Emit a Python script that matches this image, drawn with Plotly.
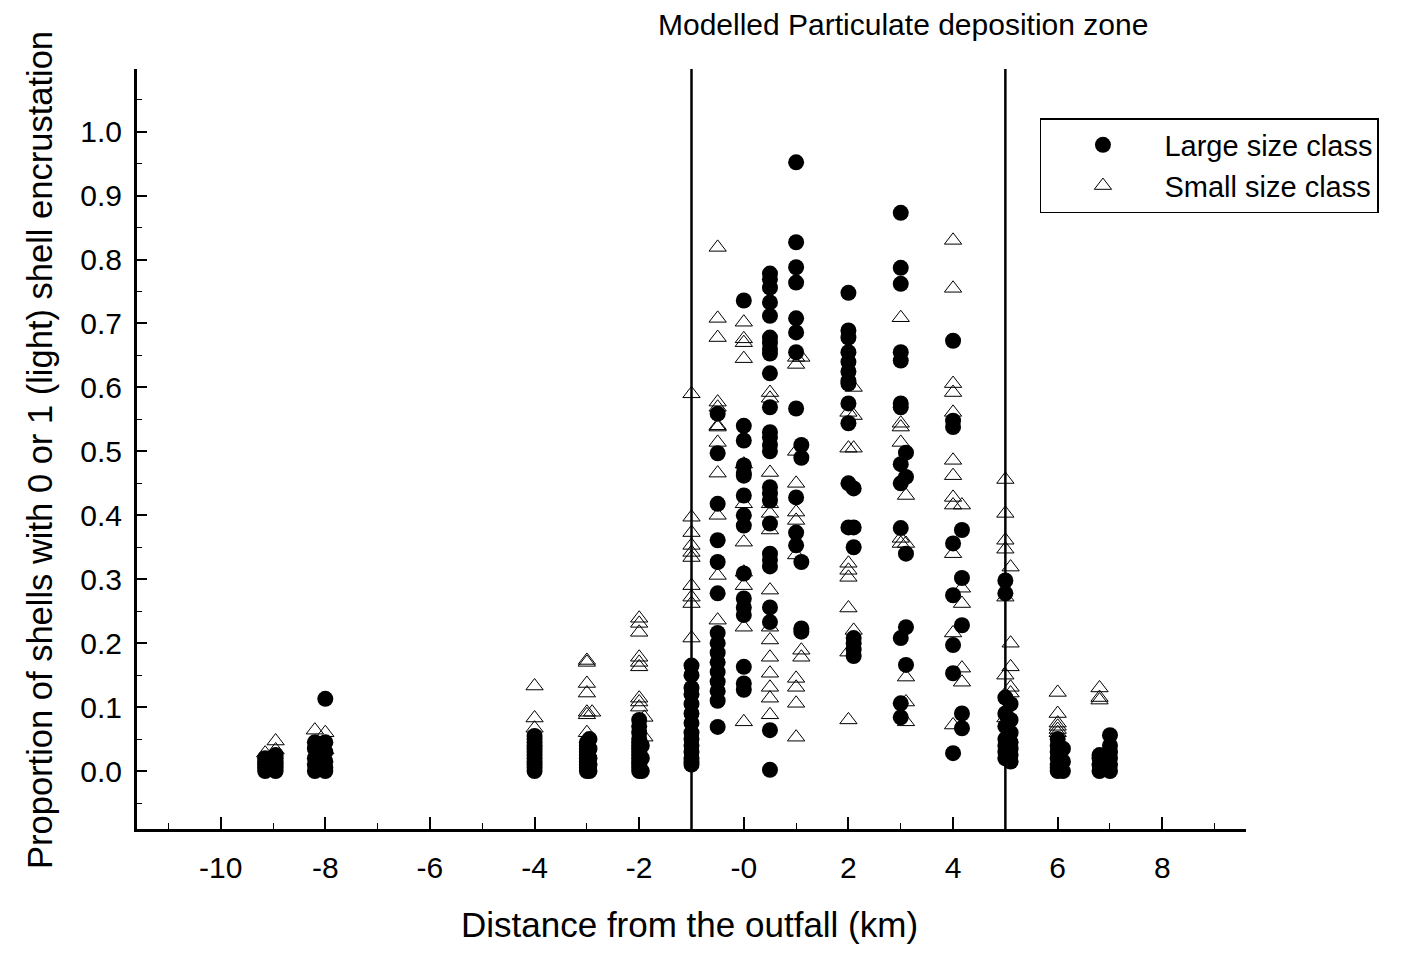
import plotly.graph_objects as go

# ---------------- data ----------------
large_distance = (
    [-9.15] * 5 + [-8.95] * 6 + [-8.2] * 5 + [-8.0] * 6 +
    [-4.0] * 12 + [-3.0] * 10 + [-2.95] * 5 + [-2.0] * 14 + [-1.95] * 3 +
    [-1.0] * 14 + [-0.5] * 15 + [0.0] * 16 + [0.5] * 26 +
    [1.0] * 11 + [1.1] * 5 + [2.0] * 12 + [2.1] * 7 +
    [3.0] * 13 + [3.1] * 5 + [4.0] * 8 + [4.17] * 5 +
    [5.0] * 9 + [5.1] * 7 + [6.0] * 7 + [6.1] * 3 + [6.8] * 4 + [7.0] * 6
)
large_proportion = [
    0.0, 0.005, 0.01, 0.015, 0.02,
    0.0, 0.005, 0.01, 0.015, 0.02, 0.025,
    0.0, 0.01, 0.02, 0.035, 0.045,
    0.0, 0.005, 0.015, 0.03, 0.045, 0.113,
    0.0, 0.005, 0.01, 0.015, 0.02, 0.025, 0.03, 0.035, 0.04, 0.045, 0.05, 0.055,
    0.0, 0.005, 0.01, 0.015, 0.02, 0.025, 0.03, 0.035, 0.04, 0.045,
    0.0, 0.01, 0.02, 0.035, 0.05,
    0.0, 0.005, 0.01, 0.015, 0.02, 0.025, 0.03, 0.035, 0.04, 0.045, 0.05, 0.06, 0.07, 0.08,
    0.0, 0.02, 0.04,
    0.01, 0.015, 0.02, 0.03, 0.04, 0.05, 0.06, 0.075, 0.09, 0.105, 0.12, 0.13, 0.15, 0.165,
    0.069, 0.11, 0.125, 0.14, 0.155, 0.17, 0.185, 0.2, 0.216, 0.278, 0.327, 0.361, 0.418, 0.497, 0.559,
    0.127, 0.137, 0.163, 0.244, 0.256, 0.27, 0.309, 0.384, 0.4, 0.431, 0.462, 0.466, 0.478, 0.517, 0.54, 0.736,
    0.002, 0.064, 0.233, 0.256, 0.32, 0.33, 0.34, 0.387, 0.423, 0.434, 0.444, 0.5, 0.51, 0.522, 0.53,
    0.569, 0.622, 0.653, 0.66, 0.67, 0.678, 0.712, 0.733, 0.756, 0.769, 0.778,
    0.952, 0.827, 0.788, 0.764, 0.708, 0.686, 0.655, 0.567, 0.428, 0.373, 0.353,
    0.51, 0.49, 0.327, 0.223, 0.218,
    0.748, 0.689, 0.678, 0.655, 0.64, 0.625, 0.61, 0.606, 0.575, 0.544, 0.45, 0.381,
    0.442, 0.381, 0.35, 0.208, 0.2, 0.19, 0.18,
    0.873, 0.787, 0.762, 0.655, 0.642, 0.575, 0.569, 0.48, 0.45, 0.38, 0.208, 0.106, 0.084,
    0.498, 0.46, 0.34, 0.225, 0.166,
    0.673, 0.548, 0.538, 0.356, 0.275, 0.197, 0.153, 0.028,
    0.377, 0.302, 0.228, 0.09, 0.067,
    0.298, 0.278, 0.115, 0.09, 0.07, 0.05, 0.04, 0.03, 0.02,
    0.105, 0.08, 0.06, 0.045, 0.035, 0.025, 0.015,
    0.0, 0.005, 0.01, 0.02, 0.03, 0.04, 0.05,
    0.0, 0.015, 0.035,
    0.0, 0.01, 0.02, 0.025,
    0.0, 0.01, 0.02, 0.03, 0.04, 0.056,
]

small_distance = (
    [-9.15] * 1 + [-8.95] * 2 + [-8.2] * 1 + [-8.0] * 2 +
    [-4.0] * 3 + [-3.0] * 7 + [-2.9] * 1 + [-2.0] * 9 + [-1.9] * 2 +
    [-1.0] * 10 + [-0.5] * 12 + [0.0] * 11 + [0.5] * 14 +
    [1.0] * 11 + [1.1] * 3 + [2.0] * 8 + [2.1] * 4 +
    [3.0] * 6 + [3.1] * 5 + [4.0] * 12 + [4.17] * 5 +
    [5.0] * 7 + [5.1] * 5 + [6.0] * 6 + [6.8] * 3
)
small_proportion = [
    0.028,
    0.033, 0.047,
    0.064,
    0.06, 0.033,
    0.133, 0.083, 0.067,
    0.173, 0.17, 0.137, 0.122, 0.092, 0.088, 0.06,
    0.092,
    0.239, 0.231, 0.217, 0.178, 0.17, 0.163, 0.114, 0.108, 0.1,
    0.084, 0.053,
    0.59, 0.397, 0.373, 0.353, 0.342, 0.334, 0.29, 0.272, 0.262, 0.208,
    0.819, 0.708, 0.678, 0.577, 0.569, 0.54, 0.538, 0.514, 0.466, 0.4, 0.306, 0.236,
    0.702, 0.676, 0.67, 0.645, 0.48, 0.418, 0.358, 0.311, 0.29, 0.225, 0.077,
    0.592, 0.583, 0.467, 0.418, 0.403, 0.377, 0.283, 0.225, 0.205, 0.178, 0.153, 0.131, 0.114, 0.088,
    0.647, 0.636, 0.5, 0.45, 0.405, 0.392, 0.338, 0.145, 0.131, 0.106, 0.053,
    0.647, 0.189, 0.178,
    0.561, 0.505, 0.325, 0.314, 0.303, 0.255, 0.186, 0.08,
    0.6, 0.556, 0.505, 0.22,
    0.709, 0.544, 0.538, 0.514, 0.364, 0.356,
    0.431, 0.356, 0.147, 0.108, 0.077,
    0.83, 0.755, 0.606, 0.592, 0.561, 0.486, 0.462, 0.428, 0.416, 0.34, 0.216, 0.072,
    0.416, 0.286, 0.262, 0.161, 0.139,
    0.456, 0.403, 0.361, 0.347, 0.272, 0.15, 0.083,
    0.319, 0.2, 0.163, 0.131, 0.122,
    0.123, 0.09, 0.075, 0.07, 0.065, 0.06,
    0.13, 0.115, 0.111,
]

zone_bounds = [-1, 5]
x_tick_values = [-10, -8, -6, -4, -2, 0, 2, 4, 6, 8]
x_tick_labels = ["-10", "-8", "-6", "-4", "-2", "-0", "2", "4", "6", "8"]
y_tick_values = [0.0, 0.1, 0.2, 0.3, 0.4, 0.5, 0.6, 0.7, 0.8, 0.9, 1.0]
y_tick_labels = ["0.0", "0.1", "0.2", "0.3", "0.4", "0.5", "0.6", "0.7", "0.8", "0.9", "1.0"]

series_names = ["Large size class", "Small size class"]
title_text = "Modelled Particulate deposition zone"
x_title = "Distance from the outfall (km)"
y_title = "Proportion of shells with 0 or 1 (light) shell encrustation"

# ---------------- figure ----------------
BASE = "Liberation Sans, Arial, sans-serif"

fig = go.Figure()
fig.add_trace(go.Scatter(
    x=small_distance, y=small_proportion, mode="markers", name=series_names[1],
    marker=dict(symbol="triangle-up-open", size=15, color="black", line=dict(width=1, color="black")),
))
fig.add_trace(go.Scatter(
    x=large_distance, y=large_proportion, mode="markers", name=series_names[0],
    marker=dict(symbol="circle", size=16, color="black", line=dict(width=0)),
))

for xb in zone_bounds:
    fig.add_shape(type="line", xref="x", yref="paper", x0=xb, x1=xb, y0=0, y1=1,
                  line=dict(color="black", width=2.5), layer="above")

# the page body adds an 8px offset, so the figure is 8px smaller and margins shifted
fig.update_layout(
    width=1409, height=945,
    margin=dict(l=129, r=171, t=61, b=124, autoexpand=False),
    paper_bgcolor="white", plot_bgcolor="white",
    font=dict(family=BASE, color="black", size=30),
    showlegend=True,
    legend=dict(
        x=0.8142, y=0.9355, xanchor="left", yanchor="top",
        bordercolor="black", borderwidth=1.5, bgcolor="white",
        font=dict(family=BASE, size=29, color="black"),
        traceorder="reversed", itemwidth=113,
    ),
    xaxis=dict(
        range=[-11.6, 9.6], showgrid=False, zeroline=False,
        showline=True, linecolor="black", linewidth=3,
        ticks="inside", ticklen=12, tickwidth=1.5, tickcolor="black",
        tickvals=x_tick_values, ticktext=x_tick_labels,
        tickfont=dict(family=BASE, size=30, color="black"),
        ticklabelstandoff=10,
        minor=dict(ticks="inside", ticklen=6, tickwidth=1.2, tickcolor="black", tick0=-11, dtick=1),
    ),
    yaxis=dict(
        range=[-0.0906, 1.098], showgrid=False, zeroline=False,
        showline=True, linecolor="black", linewidth=3,
        ticks="inside", ticklen=10, tickwidth=1.5, tickcolor="black",
        tickvals=y_tick_values, ticktext=y_tick_labels,
        tickfont=dict(family=BASE, size=30, color="black"),
        ticklabelstandoff=6,
        minor=dict(ticks="inside", ticklen=5, tickwidth=1.2, tickcolor="black", tick0=0, dtick=0.05),
    ),
    annotations=[
        dict(text=title_text, xref="paper", yref="paper", x=0.6907, y=1.058,
             xanchor="center", yanchor="middle", showarrow=False,
             font=dict(family=BASE, size=30, color="black")),
        dict(text=x_title, xref="paper", yref="paper", x=0.4986, y=-0.126,
             xanchor="center", yanchor="middle", showarrow=False,
             font=dict(family=BASE, size=35, color="black")),
        dict(text=y_title, xref="paper", yref="paper", x=-0.0875, y=0.4987,
             xanchor="center", yanchor="middle", showarrow=False, textangle=-90,
             font=dict(family=BASE, size=34.5, color="black")),
    ],
)

fig.write_html("out.html")
